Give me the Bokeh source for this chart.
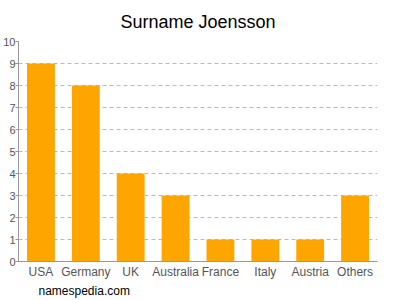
from bokeh.plotting import figure
from bokeh.models import Title, Range1d, FixedTicker
from bokeh.embed import file_html
from bokeh.resources import INLINE

countries = ["USA", "Germany", "UK", "Australia", "France", "Italy", "Austria", "Others"]
counts = [9, 8, 4, 3, 1, 1, 1, 3]
y_ticks = [0, 1, 2, 3, 4, 5, 6, 7, 8, 9, 10]

p = figure(x_range=countries, width=400, height=300, output_backend="svg",
           toolbar_location=None, min_border_left=0, min_border_right=23,
           min_border_top=41, min_border_bottom=39)
p.y_range = Range1d(0, 10)
p.vbar(x=countries, top=counts, width=0.62, color="#FFA500", line_color=None)

p.title.text = "Surname Joensson"
p.title.align = "center"
p.title.text_font = "Liberation Sans"
p.title.text_font_size = "18px"
p.title.text_font_style = "normal"
p.title.text_color = "#000000"
p.title.standoff = 19

p.add_layout(Title(text="namespedia.com", align="left", offset=20, standoff=0,
                   text_font="Liberation Sans", text_font_size="12px",
                   text_font_style="normal", text_color="#000000"), "below")

p.outline_line_color = None
p.xgrid.grid_line_color = None
p.ygrid.grid_line_color = "#bbbbbb"
p.ygrid.grid_line_dash = "4 3"
p.yaxis.ticker = FixedTicker(ticks=y_ticks)
for ax in (p.xaxis[0], p.yaxis[0]):
    ax.axis_line_color = "#999999"
    ax.major_label_text_color = "#555555"
    ax.major_label_text_font = "Liberation Sans"
    ax.minor_tick_line_color = None
p.yaxis.major_label_text_font_size = "11px"
p.xaxis.major_label_text_font_size = "12px"
p.yaxis.major_tick_line_color = "#999999"
p.yaxis.major_tick_out = 3
p.yaxis.major_tick_in = 0
p.yaxis.major_label_standoff = 0
p.xaxis.major_tick_line_color = None
p.xaxis.major_tick_out = 0
p.xaxis.major_tick_in = 0
p.xaxis.major_label_standoff = 3

open("out.html", "w").write(file_html(p, INLINE))
